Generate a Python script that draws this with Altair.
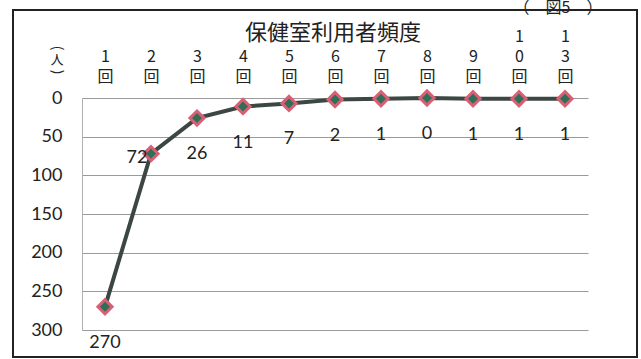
import altair as alt
import pandas as pd

freq = ["1回", "2回", "3回", "4回", "5回", "6回", "7回", "8回", "9回", "10回", "13回"]
counts = [270, 72, 26, 11, 7, 2, 1, 0, 1, 1, 1]
y_ticks = [0, 50, 100, 150, 200, 250, 300]
chart_title = "保健室利用者頻度"
unit_open, unit_text, unit_close = "(", "人", ")"
fig_label = "（　図5　）"

df = pd.DataFrame({"f": freq, "n": counts})
one = pd.DataFrame({"k": [0]})

JP = "Noto Sans CJK JP"
NUM = "Lato"

x_enc = alt.X(
    "f:N",
    sort=freq,
    scale=alt.Scale(type="point", padding=0.5),
    axis=alt.Axis(
        orient="top",
        title=None,
        labelExpr="length(datum.label) == 2 ? split(' ' + datum.label, '') : split(datum.label, '')",
        labelAngle=0,
        labelBaseline="top",
        labelLineHeight=20,
        labelPadding=70,
        labelFont=JP,
        labelFontSize=16,
        labelColor="#222222",
        ticks=False,
        domain=False,
    ),
)
y_enc = alt.Y(
    "n:Q",
    scale=alt.Scale(domain=[0, 300], reverse=True, nice=False),
    axis=alt.Axis(
        values=y_ticks,
        title=None,
        grid=True,
        gridColor="#9a9a9a",
        gridWidth=1.2,
        domainColor="#b0b0b0",
        ticks=False,
        labelPadding=20,
        labelFont=NUM,
        labelFontSize=18,
        labelColor="#222222",
    ),
)

base = alt.Chart(df).encode(x=x_enc, y=y_enc)

line = base.mark_line(color="#3c4744", strokeWidth=4)
points = base.mark_point(
    shape="diamond", size=200, filled=True, fill="#2f6f58", stroke="#d95f74",
    strokeWidth=3, opacity=1,
)
labels = base.transform_filter("datum.f != '2回'").mark_text(
    dy=36, font=NUM, fontSize=18, color="#222222"
).encode(text="n:Q")
label72 = base.transform_filter("datum.f == '2回'").mark_text(
    dx=-14, dy=4, font=NUM, fontSize=18, color="#222222"
).encode(text="n:Q")

title_t = alt.Chart(one).mark_text(
    text=chart_title, font=JP, fontSize=22, color="#222222", baseline="middle"
).encode(x=alt.value(251), y=alt.value(-65))
u_open = alt.Chart(one).mark_text(
    text=unit_open, font=JP, fontSize=14, angle=90, color="#222222", baseline="middle"
).encode(x=alt.value(-25), y=alt.value(-50))
u_text = alt.Chart(one).mark_text(
    text=unit_text, font=JP, fontSize=13, color="#222222", baseline="middle"
).encode(x=alt.value(-25), y=alt.value(-38))
u_close = alt.Chart(one).mark_text(
    text=unit_close, font=JP, fontSize=14, angle=90, color="#222222", baseline="middle"
).encode(x=alt.value(-25), y=alt.value(-26))
fig_t = alt.Chart(one).mark_text(
    text=fig_label, font=JP, fontSize=16, color="#222222", baseline="alphabetic"
).encode(x=alt.value(476), y=alt.value(-85))
frame = alt.Chart(one).mark_rect(
    fillOpacity=0, stroke="#222222", strokeWidth=2
).encode(x=alt.value(-69), x2=alt.value(555), y=alt.value(-88), y2=alt.value(259))

chart = alt.layer(
    frame, line, points, labels, label72, title_t, u_open, u_text, u_close, fig_t
).properties(
    width=506,
    height=232,
    padding={"left": 82, "top": 98, "right": 53, "bottom": 29},
    autosize=alt.AutoSizeParams(type="none"),
    background="white",
).configure_view(stroke=None)

chart.save("out.html", embed_options={"renderer": "svg", "actions": False})
